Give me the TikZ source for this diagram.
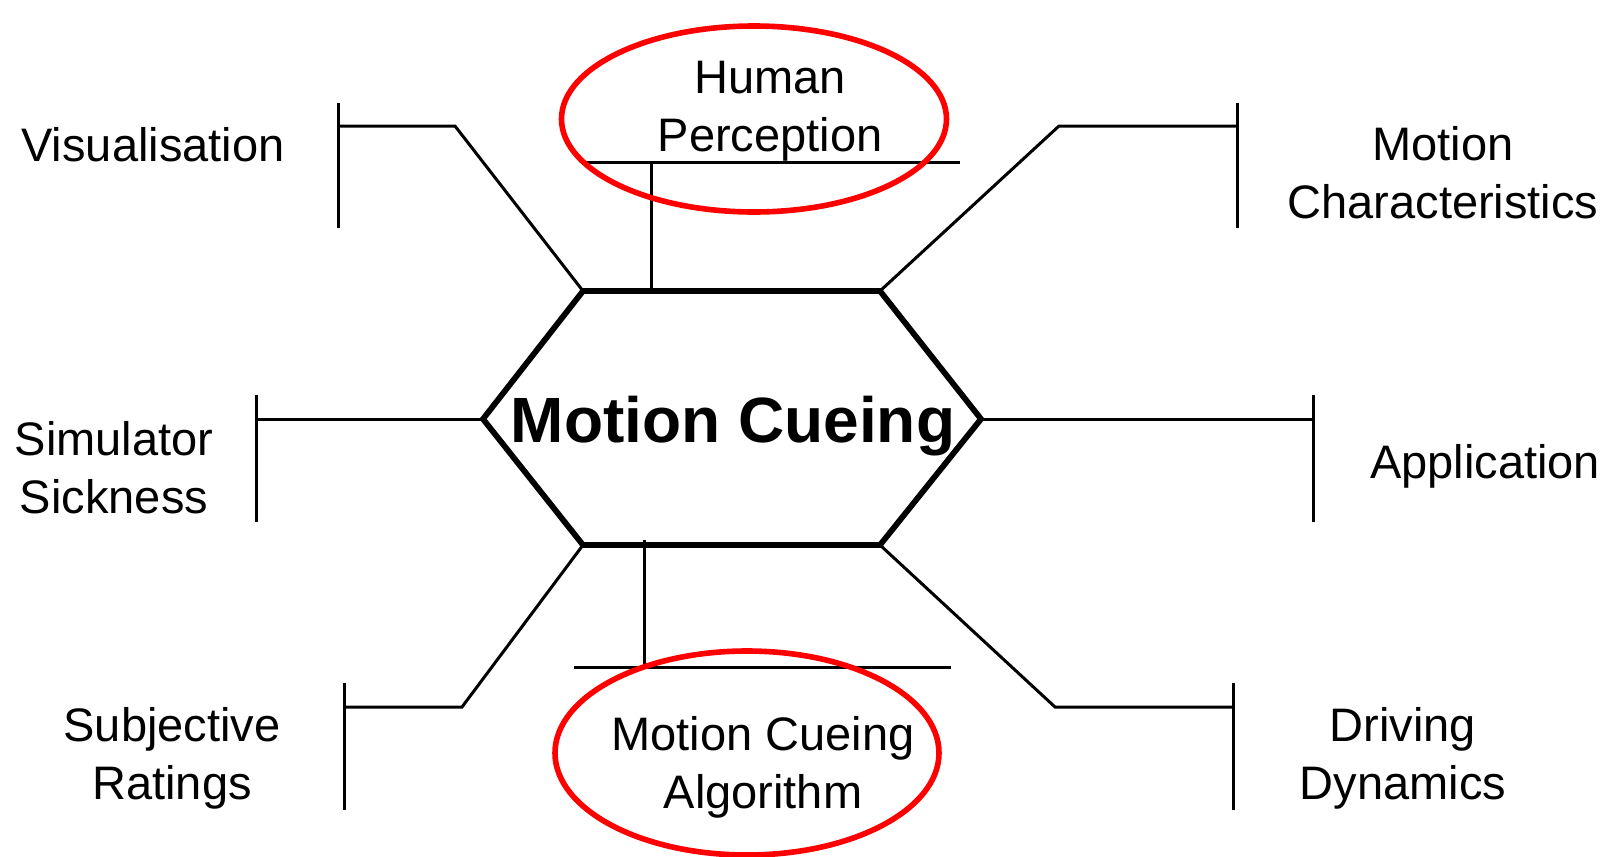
\documentclass[tikz,border=0pt]{standalone}
\usepackage{fontspec}
\setmainfont{Liberation Sans}
\usetikzlibrary{shapes.geometric}
\begin{document}
\begin{tikzpicture}[x=0.5pt,y=-0.5pt,
  lbl/.style={inner sep=0pt,align=center,font=\fontsize{23.5}{29}\selectfont},
  ln/.style={line width=1.5pt,line cap=butt},
  hex/.style={line width=2.9pt,line join=miter},
  ring/.style={draw=red,line width=2.8pt,ellipse,inner sep=0pt}]
\useasboundingbox (0,0) rectangle (1619,857);
% hexagon vertices
\coordinate (hTL) at (583,291);
\coordinate (hTR) at (880,291);
\coordinate (hR) at (981,419);
\coordinate (hBR) at (880,545);
\coordinate (hBL) at (583,545);
\coordinate (hL) at (483,419);
\draw[hex] (hTL) -- (hTR) -- (hR) -- (hBR) -- (hBL) -- (hL) -- cycle;
\node[inner sep=0pt,font=\fontsize{32}{36}\bfseries\selectfont] (mc) at (733,426) {Motion Cueing};
% Visualisation
\coordinate (vT) at (338,103); \coordinate (vB) at (338,228);
\coordinate (vK) at (455,126); \coordinate (vJ) at (338,126);
\draw[ln] (vT) -- (vB);
\draw[ln] (hTL) -- (vK) -- (vJ);
\node[lbl] (vis) at (153,145) {Visualisation};
% Motion Characteristics
\coordinate (cT) at (1237,103); \coordinate (cB) at (1237,228);
\coordinate (cK) at (1059,126); \coordinate (cJ) at (1237,126);
\draw[ln] (cT) -- (cB);
\draw[ln] (hTR) -- (cK) -- (cJ);
\node[lbl] (mch) at (1443,173) {Motion\\Characteristics};
% Application
\coordinate (aT) at (1313,395); \coordinate (aB) at (1313,522);
\coordinate (aJ) at (1313,419);
\draw[ln] (aT) -- (aB);
\draw[ln] (hR) -- (aJ);
\node[lbl] (app) at (1485,466) {Application};
% Simulator Sickness
\coordinate (sT) at (256,395); \coordinate (sB) at (256,522);
\coordinate (sJ) at (256,419);
\draw[ln] (sT) -- (sB);
\draw[ln] (hL) -- (sJ);
\node[lbl] (sim) at (114,468) {Simulator\\Sickness};
% Subjective Ratings
\coordinate (rT) at (344,683); \coordinate (rB) at (344,810);
\coordinate (rK) at (462,707); \coordinate (rJ) at (344,707);
\draw[ln] (rT) -- (rB);
\draw[ln] (hBL) -- (rK) -- (rJ);
\node[lbl] (sub) at (172,758) {Subjective\\Ratings};
% Driving Dynamics
\coordinate (dT) at (1233,683); \coordinate (dB) at (1233,810);
\coordinate (dK) at (1055,707); \coordinate (dJ) at (1233,707);
\draw[ln] (dT) -- (dB);
\draw[ln] (hBR) -- (dK) -- (dJ);
\node[lbl] (drv) at (1403,758) {Driving\\Dynamics};
% Human Perception
\coordinate (pL) at (581,162); \coordinate (pR) at (960,162);
\coordinate (pJ) at (651,162); \coordinate (pH) at (651,291);
\draw[ln] (pL) -- (pR);
\draw[ln] (pJ) -- (pH);
\node[lbl] (hp) at (770,111) {Human\\Perception};
\node[ring,minimum width=385pt*0.5,minimum height=186pt*0.5] (hpring) at (754,119) {};
% Motion Cueing Algorithm
\coordinate (gL) at (574,667); \coordinate (gR) at (951,667);
\coordinate (gJ) at (644,667); \coordinate (gH) at (644,540);
\draw[ln] (gL) -- (gR);
\draw[ln] (gJ) -- (gH);
\node[lbl] (mca) at (763,767) {Motion Cueing\\Algorithm};
\node[ring,minimum width=384pt*0.5,minimum height=204pt*0.5] (mcaring) at (747,753) {};
\end{tikzpicture}
\end{document}
